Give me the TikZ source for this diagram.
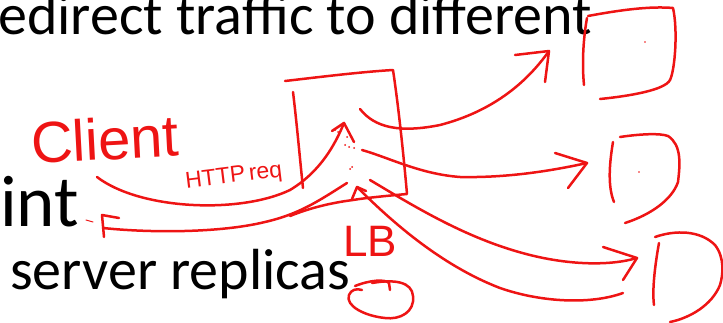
\documentclass[tikz,border=0pt]{standalone}
\usepackage{fontspec}
\setmainfont{Carlito}
\newfontfamily\hand{Liberation Sans}
\definecolor{pen}{RGB}{238,20,20}
\begin{document}
\begin{tikzpicture}[x=1pt,y=-1pt,
  ink/.style={draw=pen, line width=2.5pt, line cap=round, line join=round},
  fine/.style={draw=pen, line width=1pt, line cap=round},
  speck/.style={fill=pen, draw=none},
  slide/.style={inner sep=0pt, anchor=base west, text=black},
  scrawl/.style={inner sep=0pt, text=pen, font=\hand}]
\useasboundingbox (0,0) rectangle (723,323);

% slide text underneath the annotations
\node[slide, font=\fontsize{58}{60}\selectfont] (line1) at (-2,35) {edirect traffic to different};
\node[slide, font=\fontsize{73}{76}\selectfont] (line2) at (0,227) {int};
\node[slide, font=\fontsize{58}{60}\selectfont] (line3) at (10,290) {server replicas};

% handwritten labels
\node[scrawl, font=\hand\fontsize{58}{60}\selectfont, rotate=3] (client) at (105,139) {Client};
\node[scrawl, font=\hand\fontsize{23}{25}\selectfont, rotate=7] (httpreq) at (234,177) {HTTP\,req};
\node[scrawl, font=\hand\fontsize{44}{46}\selectfont] (lb) at (370,241) {LB};

% load balancer box
\draw[ink] (285,81) .. controls (320,77) and (360,72) .. (393,70)
  .. controls (399,110) and (404,160) .. (407,194)
  .. controls (385,196) and (365,198) .. (353,200)
  .. controls (330,203) and (310,208) .. (290,216);
\draw[ink] (293,92) .. controls (297,125) and (300,160) .. (303,188);
\foreach \p in {(335,130),(338,132),(345,145),(349,147),(354,148),(352,167),(350,169),(347,137)}
  \fill[speck] \p circle (1pt);

% servers
\draw[ink] (588,16) .. controls (620,10) and (650,6) .. (673,8)
  .. controls (678,30) and (675,70) .. (670,80)
  .. controls (665,90) and (630,96) .. (600,99);
\draw[ink] (587,18) .. controls (583,40) and (582,65) .. (584,85);
\fill[speck] (645,42) circle (0.9pt);

\draw[ink] (620,137) .. controls (640,134) and (660,133) .. (668,136)
  .. controls (682,145) and (680,165) .. (678,182)
  .. controls (672,200) and (650,215) .. (625,223);
\draw[ink] (613,142) .. controls (610,160) and (607,185) .. (614,202);
\fill[speck] (639,172) circle (0.9pt);

\draw[ink] (655,237) .. controls (675,230) and (700,230) .. (715,245)
  .. controls (725,258) and (723,275) .. (720,285)
  .. controls (712,305) and (690,318) .. (670,322);
\draw[ink] (659,243) .. controls (655,265) and (652,290) .. (654,305);

% request from the client to the load balancer
\coordinate (reqstart) at (97,177);
\coordinate (reqtip) at (344,123);
\draw[ink] (reqstart) .. controls (140,210) and (240,214) .. (290,190)
  .. controls (320,172) and (335,145) .. (reqtip);
\draw[ink] (332,131) -- (reqtip) -- (354,142);

% response back to the client
\coordinate (resstart) at (347,183);
\coordinate (restip) at (103,228);
\draw[ink] (resstart) .. controls (320,200) and (300,214) .. (265,222)
  .. controls (220,233) and (150,233) .. (restip);
\draw[ink] (119,218) -- (102,215) -- (104,237);
\draw[fine] (86,220) -- (93,222);

% traffic from the load balancer to each server
\coordinate (a1) at (360,109);
\coordinate (t1) at (549,51);
\draw[ink] (a1) .. controls (375,128) and (400,133) .. (440,125)
  .. controls (490,112) and (525,85) .. (t1);
\draw[ink] (515,55) -- (t1) -- (545,82);

\coordinate (a2) at (362,150);
\coordinate (t2) at (587,163);
\draw[ink] (a2) .. controls (390,158) and (420,174) .. (460,177)
  .. controls (510,178) and (555,170) .. (t2);
\draw[ink] (555,153) -- (t2) -- (568,188);

\coordinate (a3) at (370,180);
\coordinate (t3) at (637,258);
\draw[ink] (a3) .. controls (420,210) and (470,240) .. (530,255)
  .. controls (570,265) and (610,266) .. (t3);
\draw[ink] (603,247) -- (t3) -- (623,280);

% reply from the bottom server back to the load balancer
\coordinate (b3) at (623,293);
\coordinate (lbtip) at (357,187);
\draw[ink] (b3) .. controls (590,305) and (540,302) .. (500,288)
  .. controls (440,265) and (390,220) .. (lbtip);
\draw[ink] (352,199) -- (lbtip) -- (366,191);

% circled mark beside the text
\draw[ink] (355,286) .. controls (370,280) and (385,279) .. (389,283) -- (390,290);
\draw[ink] (372,283) .. controls (395,279) and (412,282) .. (413,296)
  .. controls (415,312) and (400,320) .. (385,318)
  .. controls (365,316) and (345,306) .. (349,295)
  .. controls (351,290) and (356,288) .. (362,290);
\end{tikzpicture}
\end{document}
